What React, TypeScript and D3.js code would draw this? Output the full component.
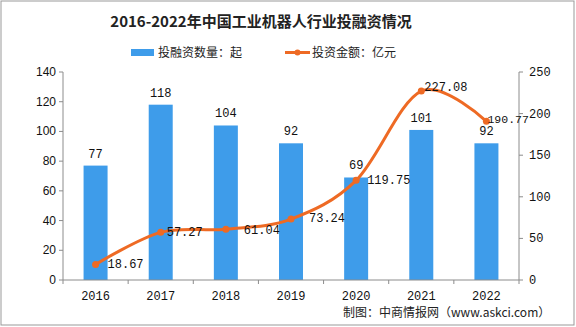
import React from "react";
import * as d3 from "d3";

const years = ["2016", "2017", "2018", "2019", "2020", "2021", "2022"];
const dealCounts = [77, 118, 104, 92, 69, 101, 92];
const amounts = [18.67, 57.27, 61.04, 73.24, 119.75, 227.08, 190.77];
const leftTicks = [0, 20, 40, 60, 80, 100, 120, 140];
const rightTicks = [0, 50, 100, 150, 200, 250];
const amountLabelOffsets: [number, number][] = [
  [12, 0], [6, 0], [18, 1], [18, -1], [11, 0], [3, -4], [1, -2],
];

const W = 576, H = 327;
const M = { left: 63, right: 519, top: 72, bottom: 280 };
const BAR = "#3E9CEA";
const LINE = "#EE6A24";
const AXIS = "#8c8c8c";
const CJK = "'Noto Sans CJK SC', 'Noto Sans', sans-serif";
const NUM = "'Liberation Mono', 'DejaVu Sans Mono', monospace";

export default function App() {
  const x = d3.scaleBand<string>().domain(years).range([M.left, M.right]).paddingInner(0).paddingOuter(0);
  const yL = d3.scaleLinear().domain([0, 140]).range([M.bottom, M.top]);
  const yR = d3.scaleLinear().domain([0, 250]).range([M.bottom, M.top]);
  const barW = 24;
  const cx = (y: string) => (x(y) as number) + x.bandwidth() / 2;
  const line = d3
    .line<number>()
    .x((_, i) => cx(years[i]))
    .y((d) => yR(d))
    .curve(d3.curveCardinal.tension(0));
  const boundaries = years.map((y) => x(y) as number).concat([M.right]);

  return (
    <svg width={W} height={H} style={{ position: "absolute", left: 0, top: 0, background: "#fff" }}>
      <rect x={1} y={1} width={W - 3} height={H - 3} fill="#fff" stroke="#999" strokeWidth={1} />
      <text x={261} y={27} textAnchor="middle" fontFamily={CJK} fontWeight="bold" fontSize={15} fill="#222">
        2016-2022年中国工业机器人行业投融资情况
      </text>
      {/* legend */}
      <rect x={131} y={49} width={23} height={7} fill={BAR} />
      <text x={158} y={57} fontFamily={CJK} fontSize={12} fill="#222">投融资数量：起</text>
      <line x1={285} x2={310} y1={52.5} y2={52.5} stroke={LINE} strokeWidth={3} />
      <circle cx={297.5} cy={52.5} r={3} fill={LINE} />
      <text x={312} y={57} fontFamily={CJK} fontSize={12} fill="#222">投资金额：亿元</text>

      {/* bars */}
      {dealCounts.map((v, i) => (
        <g key={years[i]}>
          <rect x={cx(years[i]) - barW / 2} y={yL(v)} width={barW} height={M.bottom - yL(v)} fill={BAR} />
          <text x={cx(years[i])} y={yL(v) - 8} textAnchor="middle" fontFamily={NUM} fontSize={12} fill="#111">
            {v}
          </text>
        </g>
      ))}

      {/* axes */}
      <line x1={M.left} x2={M.left} y1={M.top} y2={M.bottom} stroke={AXIS} />
      <line x1={M.right} x2={M.right} y1={M.top} y2={M.bottom} stroke={AXIS} />
      <line x1={M.left} x2={M.right} y1={M.bottom} y2={M.bottom} stroke={AXIS} />
      {leftTicks.map((t) => (
        <g key={"l" + t}>
          <line x1={M.left - 4} x2={M.left} y1={yL(t)} y2={yL(t)} stroke={AXIS} />
          <text x={M.left - 7} y={yL(t) + 4} textAnchor="end" fontFamily="'Liberation Sans', Arial, sans-serif" fontSize={12} fill="#111">
            {t}
          </text>
        </g>
      ))}
      {rightTicks.map((t) => (
        <g key={"r" + t}>
          <line x1={M.right} x2={M.right + 4} y1={yR(t)} y2={yR(t)} stroke={AXIS} />
          <text x={M.right + 10} y={yR(t) + 4} textAnchor="start" fontFamily={NUM} fontSize={12} fill="#111">
            {t}
          </text>
        </g>
      ))}
      {boundaries.map((b, i) => (
        <line key={"b" + i} x1={b} x2={b} y1={M.bottom} y2={M.bottom + 4} stroke={AXIS} />
      ))}
      {years.map((y) => (
        <text key={"x" + y} x={cx(y)} y={300} textAnchor="middle" fontFamily={NUM} fontSize={12} fill="#111">
          {y}
        </text>
      ))}

      {/* line */}
      <path d={line(amounts) || ""} fill="none" stroke={LINE} strokeWidth={3} />
      {amounts.map((v, i) => (
        <g key={"p" + i}>
          <circle cx={cx(years[i])} cy={yR(v)} r={3.5} fill={LINE} />
          <text
            x={cx(years[i]) + amountLabelOffsets[i][0]}
            y={yR(v) + amountLabelOffsets[i][1] + 4}
            fontFamily={NUM}
            fontSize={i === 6 ? 11.5 : 12}
            fill="#111"
          >
            {v.toFixed(2)}
          </text>
        </g>
      ))}

      <text x={343} y={317} fontFamily={CJK} fontSize={12} fill="#222">
        制图：中商情报网（www.askci.com）
      </text>
    </svg>
  );
}
